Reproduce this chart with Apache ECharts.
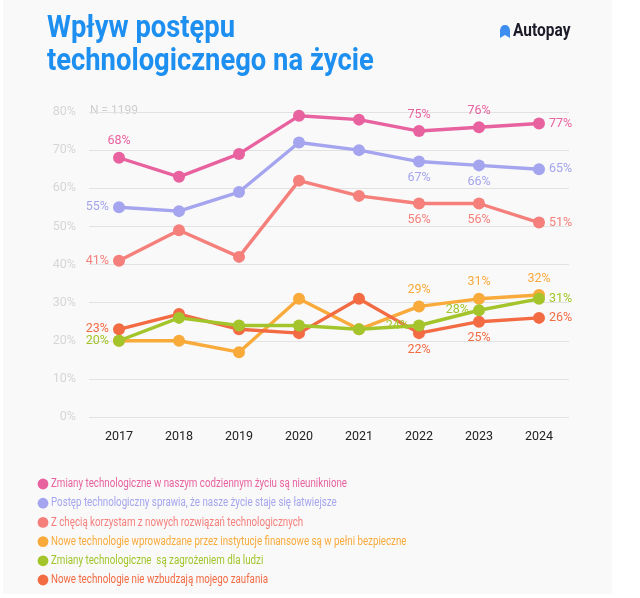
<!DOCTYPE html>
<html>
<head>
<meta charset="utf-8">
<script src="https://cdn.jsdelivr.net/npm/echarts@6/dist/echarts.min.js"></script>
<style>
html,body{margin:0;padding:0;background:#ffffff;}
#chart{width:640px;height:598px;}
</style>
</head>
<body>
<div id="chart"></div>
<script>
// ---- data ----
const years = ['2017', '2018', '2019', '2020', '2021', '2022', '2023', '2024'];
const yTicks = [0, 10, 20, 30, 40, 50, 60, 70, 80];
const seriesNames = [
  'Zmiany technologiczne w naszym codziennym życiu są nieuniknione',
  'Postęp technologiczny sprawia, że nasze życie staje się łatwiejsze',
  'Z chęcią korzystam z nowych rozwiązań technologicznych',
  'Nowe technologie wprowadzane przez instytucje finansowe są w pełni bezpieczne',
  'Zmiany technologiczne  są zagrożeniem dla ludzi',
  'Nowe technologie nie wzbudzają mojego zaufania'
];
const inevitable = [68, 63, 69, 79, 78, 75, 76, 77];
const easier = [55, 54, 59, 72, 70, 67, 66, 65];
const willingly = [41, 49, 42, 62, 58, 56, 56, 51];
const finSafe = [20, 20, 17, 31, 23, 29, 31, 32];
const threat = [20, 26, 24, 24, 23, 24, 28, 31];
const noTrust = [23, 27, 23, 22, 31, 22, 25, 26];
const sampleNote = 'N = 1199';
const titleLines = ['Wpływ postępu', 'technologicznego na życie'];
const brand = 'Autopay';

// ---- styling ----
const colors = ['#e8629f', '#a4a5ee', '#f47f7b', '#f8aa3b', '#a3c52b', '#f26b43'];
const allValues = [inevitable, easier, willingly, finSafe, threat, noTrust];
const labelPlacement = [
  {0: 'top', 5: 'top', 6: 'top', 7: 'right'},
  {0: 'left', 5: 'bottom', 6: 'bottom', 7: 'right'},
  {0: 'left', 5: 'bottom', 6: 'bottom', 7: 'right'},
  {5: 'top', 6: 'top', 7: 'top'},
  {0: 'left', 5: 'left', 6: 'left', 7: 'right'},
  {0: 'left', 5: 'bottom', 6: 'bottom', 7: 'right'}
];
const seriesZ = [2, 3, 4, 5, 7, 6];

const labelFont = 'Roboto, "Noto Sans", sans-serif';

const series = allValues.map((vals, si) => ({
  name: seriesNames[si],
  type: 'line',
  data: vals.map((v, i) => {
    const pos = labelPlacement[si][i];
    if (!pos) return v;
    return {value: v, label: {show: true, position: pos}};
  }),
  symbol: 'circle',
  symbolSize: 12,
  lineStyle: {width: 3.4, color: colors[si]},
  itemStyle: {color: colors[si]},
  label: {
    show: false,
    formatter: '{c}%',
    color: colors[si],
    fontSize: 12.5,
    fontFamily: labelFont,
    distance: 4
  },
  emphasis: {disabled: true},
  z: seriesZ[si]
}));

// legend drawn as graphic rows (narrow text)
const legendTop = 484, legendStep = 19.2;
const legendGraphics = [];
seriesNames.forEach((n, i) => {
  const cy = legendTop + i * legendStep;
  legendGraphics.push({type: 'circle', shape: {cx: 43, cy: cy, r: 5.4}, style: {fill: colors[i]}});
  legendGraphics.push({type: 'text', x: 51, y: cy, scaleX: 0.78, originX: 0,
    style: {text: n, fill: colors[i], fontSize: 12.5, fontFamily: labelFont, verticalAlign: 'middle', align: 'left'}});
});

const chart = echarts.init(document.getElementById('chart'), null, {renderer: 'canvas'});
chart.setOption({
  backgroundColor: '#ffffff',
  animation: false,
  color: colors,
  grid: {left: 89, right: 71, top: 112, bottom: 181, containLabel: false},
  xAxis: {
    type: 'category',
    data: years,
    boundaryGap: true,
    axisLine: {show: false},
    axisTick: {show: false},
    axisLabel: {color: '#222222', fontSize: 12.5, fontFamily: labelFont, margin: 13}
  },
  yAxis: {
    type: 'value',
    min: yTicks[0],
    max: yTicks[yTicks.length - 1],
    interval: 10,
    axisLine: {show: false},
    axisTick: {show: false},
    axisLabel: {color: '#d6d6d6', fontSize: 12.5, fontFamily: labelFont, margin: 13, formatter: '{value}%'},
    splitLine: {lineStyle: {color: '#e2e2e2', width: 1.2}}
  },
  graphic: [
    {type: 'rect', z: -10, silent: true, shape: {x: 3, y: 0, width: 609, height: 594}, style: {fill: '#f9f9f9'}},
    {type: 'text', x: 47, y: 13, scaleX: 0.855, originX: 0, style: {text: titleLines[0], fill: '#1d8ff0', fontSize: 32, fontWeight: 'bold', fontFamily: labelFont}},
    {type: 'text', x: 47, y: 46, scaleX: 0.855, originX: 0, style: {text: titleLines[1], fill: '#1d8ff0', fontSize: 32, fontWeight: 'bold', fontFamily: labelFont}},
    {type: 'polygon', shape: {points: [[500, 38], [500, 30], [501, 27], [503, 25.3], [505, 25], [507, 25.3], [509, 27], [510, 30], [510, 38], [505, 35]]}, style: {fill: '#3d8ef0'}},
    {type: 'text', x: 513, y: 22, scaleX: 0.86, originX: 0, style: {text: brand, fill: '#1b1b2a', fontSize: 18, fontWeight: 'bold', fontFamily: labelFont}},
    {type: 'text', x: 90, y: 105, style: {text: sampleNote, fill: '#cfcfcf', fontSize: 12, fontFamily: labelFont}}
  ].concat(legendGraphics),
  series: series
});
</script>
</body>
</html>
